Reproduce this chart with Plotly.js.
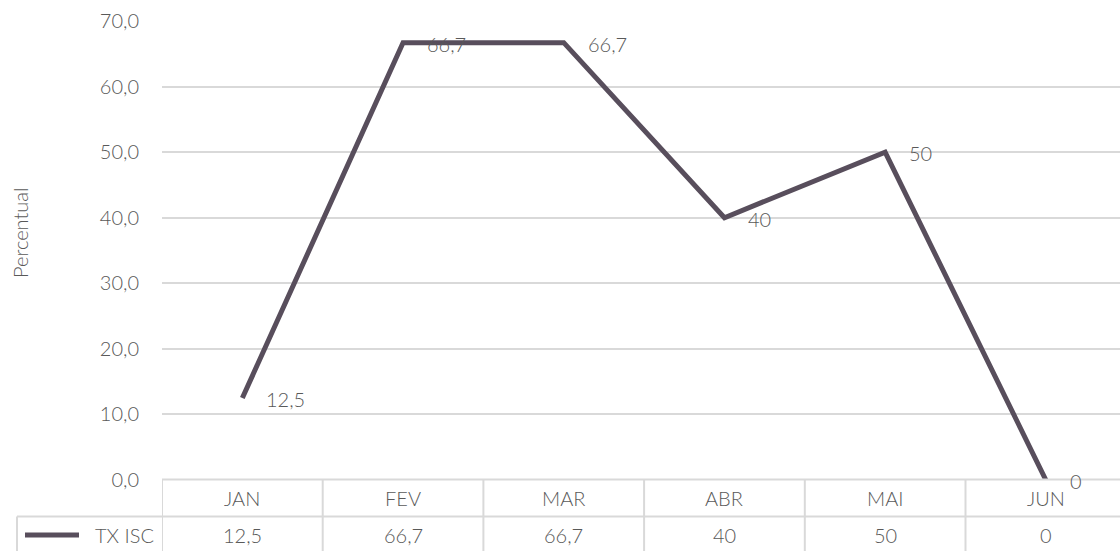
<!DOCTYPE html>
<html>
<head>
<meta charset="utf-8">
<script src="https://cdn.plot.ly/plotly-3.0.1.min.js"></script>
<style>html,body{margin:0;padding:0;background:#fff;}#chart{width:1120px;height:551px;}</style>
</head>
<body>
<div id="chart"></div>
<script>
const categories = ['JAN', 'FEV', 'MAR', 'ABR', 'MAI', 'JUN'];
const values = [12.5, 66.7, 66.7, 40, 50, 0];
const valueLabels = ['12,5', '66,7', '66,7', '40', '50', '0'];
const seriesName = 'TX ISC';
const yTickVals = [0, 10, 20, 30, 40, 50, 60, 70];
const yTickText = ['0,0', '10,0', '20,0', '30,0', '40,0', '50,0', '60,0', '70,0'];
const yTitle = 'Percentual';

const W = 1120, H = 551;
const L = 162, R = 0, T = 21, B = 71;
const plotW = W - L - R, plotH = H - T - B;
const colW = 160.7;
const xMax = -0.5 + plotW / colW;
const py = p => (H - B - p) / plotH;   // pixel y -> paper y
const px = p => (p - L) / plotW;       // pixel x -> paper x

const textColor = '#595959';
const lineColor = '#584e5c';
const gridColor = '#d9d9d9';
const font = {family: 'Lato, "Open Sans", sans-serif', size: 20, color: textColor, weight: 300};

const xIdx = categories.map((c, i) => i);

const trace = {
  x: xIdx, y: values, type: 'scatter', mode: 'lines',
  line: {color: lineColor, width: 5}, name: seriesName,
  hoverinfo: 'skip', cliponaxis: false
};

const shapes = [];
const annotations = [];
// table horizontal lines
shapes.push({type: 'line', xref: 'paper', yref: 'paper', x0: px(17), x1: 1, y0: py(516.5), y1: py(516.5), line: {color: gridColor, width: 2}});
shapes.push({type: 'line', xref: 'paper', yref: 'paper', x0: 0, x1: 1, y0: py(479.5), y1: py(479.5), line: {color: gridColor, width: 2}});
// left border of legend cell
shapes.push({type: 'line', xref: 'paper', yref: 'paper', x0: px(17), x1: px(17), y0: py(516.5), y1: py(560), line: {color: gridColor, width: 2}});
// column boundaries
for (let i = 0; i <= categories.length; i++) {
  shapes.push({type: 'line', xref: 'x', yref: 'paper', x0: i - 0.5, x1: i - 0.5, y0: py(479.5), y1: py(560), line: {color: gridColor, width: 2}});
}
// legend key
shapes.push({type: 'line', xref: 'paper', yref: 'paper', x0: px(25), x1: px(79), y0: py(535), y1: py(535), line: {color: lineColor, width: 5}});
annotations.push({xref: 'paper', yref: 'paper', x: px(156), y: py(535), xanchor: 'right', yanchor: 'middle', text: seriesName, showarrow: false, font: font});

categories.forEach((c, i) => {
  annotations.push({xref: 'x', yref: 'paper', x: i, y: py(498), xanchor: 'center', yanchor: 'middle', text: c, showarrow: false, font: font});
  annotations.push({xref: 'x', yref: 'paper', x: i, y: py(535), xanchor: 'center', yanchor: 'middle', text: valueLabels[i], showarrow: false, font: font});
  annotations.push({xref: 'x', yref: 'y', x: i, y: values[i], xanchor: 'left', yanchor: 'middle', xshift: 22, yshift: -1, text: valueLabels[i], showarrow: false, font: font});
});
// y axis title
annotations.push({xref: 'paper', yref: 'paper', x: px(20), y: py(233), xanchor: 'center', yanchor: 'middle', textangle: -90, text: yTitle, showarrow: false, font: font});

const layout = {
  width: W, height: H,
  margin: {l: L, r: R, t: T, b: B, pad: 0},
  paper_bgcolor: '#fff', plot_bgcolor: '#fff',
  showlegend: false,
  font: font,
  xaxis: {range: [-0.5, xMax], showgrid: false, zeroline: false, showline: false, showticklabels: false, ticks: '', fixedrange: true},
  yaxis: {range: [0, 70], tickvals: yTickVals, ticktext: yTickText, showgrid: true, gridcolor: gridColor, gridwidth: 2,
          zeroline: false, showline: false, ticks: '', ticklabelstandoff: 22, tickfont: font, fixedrange: true},
  shapes: shapes,
  annotations: annotations
};

Plotly.newPlot('chart', [trace], layout, {displayModeBar: false, staticPlot: true});
</script>
</body>
</html>
